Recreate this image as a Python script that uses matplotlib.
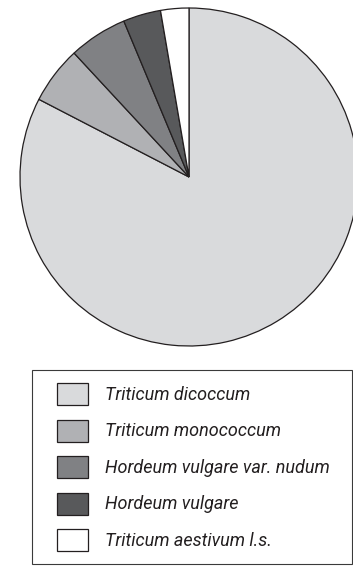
import matplotlib
matplotlib.use('Agg')
import matplotlib.pyplot as plt
from matplotlib.patches import Rectangle

labels = ['Triticum dicoccum', 'Triticum monococcum', 'Hordeum vulgare var. nudum',
          'Hordeum vulgare', 'Triticum aestivum l.s.']
shares = [82.6, 5.5, 5.6, 3.6, 2.7]
colors = ['#d9dadc', '#b0b1b4', '#808184', '#58595b', '#ffffff']
edge = '#231f20'

W, H = 353, 566
fig = plt.figure(figsize=(W / 100, H / 100), dpi=100)

# pie centred at (189, 177) px from top-left, radius 169 px
cx, cy, r = 189, 177, 169
ax = fig.add_axes([(cx - r) / W, (H - cy - r) / H, 2 * r / W, 2 * r / H])
wedges, _ = ax.pie(shares, colors=colors, startangle=90, counterclock=False,
                   radius=1, wedgeprops=dict(edgecolor=edge, linewidth=0.9))
ax.set_xlim(-1, 1)
ax.set_ylim(-1, 1)
ax.set_aspect('equal')
ax.axis('off')

# legend frame
fig.patches.append(Rectangle((32 / W, 1 - 564 / H), 320 / W, 194 / H,
                             transform=fig.transFigure, fill=False,
                             edgecolor='#3a3a3a', linewidth=0.8))

fs = 13
px = fs * 100 / 72
hh = (22 / px - 0.245) / 0.65     # gives a 22 px tall swatch
leg = fig.legend(wedges, labels, loc='upper left',
                 bbox_to_anchor=(57 / W, 1 - 383 / H),
                 frameon=False, borderpad=0, borderaxespad=0,
                 handlelength=31 / px, handleheight=hh,
                 handletextpad=17 / px, labelspacing=14.5 / px,
                 prop=dict(family=['Roboto', 'DejaVu Sans'],
                           style='italic', size=fs))
for t in leg.get_texts():
    t.set_color(edge)

fig.savefig('out.png', dpi=100)
